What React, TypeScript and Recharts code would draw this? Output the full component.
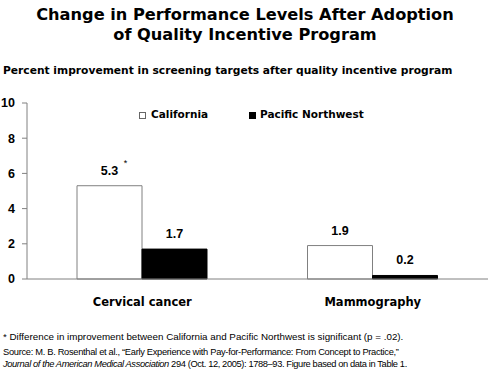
import React from "react";
import { BarChart, Bar, XAxis, YAxis, LabelList } from "recharts";

const categories = ["Cervical cancer", "Mammography"];
const california = [5.3, 1.9];
const pacificNorthwest = [1.7, 0.2];
const californiaMarks = ["*", ""];
const yTicks = [0, 2, 4, 6, 8, 10];
const boundaryTicks = [0, 1, 2];

const data = categories.map((c, i) => ({
  name: c,
  pos: i + 0.5,
  california: california[i],
  pnw: pacificNorthwest[i],
}));

const FONT = "'Liberation Sans', Arial, sans-serif";
const HEAVY = "'DejaVu Sans', 'Liberation Sans', Arial, sans-serif";

const ValueLabel = (props: any) => {
  const { x, y, width, value, index, marks } = props;
  const cx = x + width / 2;
  const mark = marks ? marks[index] : "";
  return (
    <g>
      <text x={cx} y={y - 11} textAnchor="middle" fontFamily={FONT} fontWeight="bold" fontSize={12.5} fill="#000">
        {value.toFixed(1)}
      </text>
      {mark ? (
        <text x={cx + 16} y={y - 20} textAnchor="middle" fontFamily={FONT} fontSize={9} fill="#000">
          {mark}
        </text>
      ) : null}
    </g>
  );
};

export default function App() {
  return (
    <div style={{ position: "absolute", left: 0, top: 0, width: 490, height: 369, background: "#fff", fontFamily: FONT }}>
      <div style={{ position: "absolute", left: 0, top: 5, width: 490, textAlign: "center", fontFamily: HEAVY, fontWeight: "bold", fontSize: 16.2, lineHeight: "20px", color: "#000" }}>
        Change in Performance Levels After Adoption
        <br />
        of Quality Incentive Program
      </div>
      <div style={{ position: "absolute", left: 3, top: 64, fontFamily: HEAVY, fontWeight: "bold", fontSize: 10.7, color: "#000", whiteSpace: "nowrap" }}>
        Percent improvement in screening targets after quality incentive program
      </div>
      <div style={{ position: "absolute", left: 0, top: 107, width: 490, height: 14, fontFamily: HEAVY, fontWeight: "bold", fontSize: 10.5, color: "#000" }}>
        <div style={{ position: "absolute", left: 139, top: 5, width: 5, height: 5, border: "1px solid #666", background: "#fff" }} />
        <div style={{ position: "absolute", left: 151, top: 1, whiteSpace: "nowrap" }}>California</div>
        <div style={{ position: "absolute", left: 249, top: 5, width: 7, height: 7, background: "#000" }} />
        <div style={{ position: "absolute", left: 260, top: 1, whiteSpace: "nowrap" }}>Pacific Northwest</div>
      </div>
      <BarChart
        width={490}
        height={369}
        data={data}
        margin={{ top: 103, right: 2, left: 0, bottom: 60 }}
        barGap={0}
        style={{ position: "absolute", left: 0, top: 0 }}
      >
        <XAxis
          xAxisId="b"
          type="number"
          dataKey="pos"
          domain={[0, 2]}
          ticks={boundaryTicks}
          tick={false}
          axisLine={false}
          tickLine={{ stroke: "#808080" }}
          tickSize={4}
          height={0}
        />
        <XAxis
          xAxisId="cat"
          dataKey="name"
          height={30}
          axisLine={{ stroke: "#808080" }}
          tickLine={false}
          tickMargin={13}
          tick={{ fontFamily: HEAVY, fontWeight: "bold", fontSize: 11.5, fill: "#000" }}
        />
        <YAxis
          width={27}
          domain={[0, 10]}
          ticks={yTicks}
          interval={0}
          axisLine={{ stroke: "#808080" }}
          tickLine={{ stroke: "#808080" }}
          tickSize={5}
          tickMargin={7}
          tick={{ fontFamily: FONT, fontWeight: "bold", fontSize: 12.5, fill: "#000", textAnchor: "end" }}
        />
        <Bar xAxisId="cat" dataKey="california" fill="#fff" stroke="#808080" strokeWidth={1} barSize={65} isAnimationActive={false}>
          <LabelList dataKey="california" content={<ValueLabel marks={californiaMarks} />} />
        </Bar>
        <Bar xAxisId="cat" dataKey="pnw" fill="#000" stroke="#000" barSize={65} isAnimationActive={false}>
          <LabelList dataKey="pnw" content={<ValueLabel />} />
        </Bar>
      </BarChart>
      <div style={{ position: "absolute", left: 3, top: 330, fontSize: 9.8, lineHeight: "13px", color: "#000", whiteSpace: "nowrap" }}>
        * Difference in improvement between California and Pacific Northwest is significant (p = .02).
      </div>
      <div style={{ position: "absolute", left: 3, top: 346, fontSize: 9.3, letterSpacing: -0.3, lineHeight: "12px", color: "#000", whiteSpace: "nowrap" }}>
        Source: M. B. Rosenthal et al., “Early Experience with Pay-for-Performance: From Concept to Practice,”
      </div>
      <div style={{ position: "absolute", left: 3, top: 358, fontSize: 9.3, letterSpacing: -0.38, lineHeight: "12px", color: "#000", whiteSpace: "nowrap" }}>
        <i>Journal of the American Medical Association</i> 294 (Oct. 12, 2005): 1788–93. Figure based on data in Table 1.
      </div>
    </div>
  );
}
